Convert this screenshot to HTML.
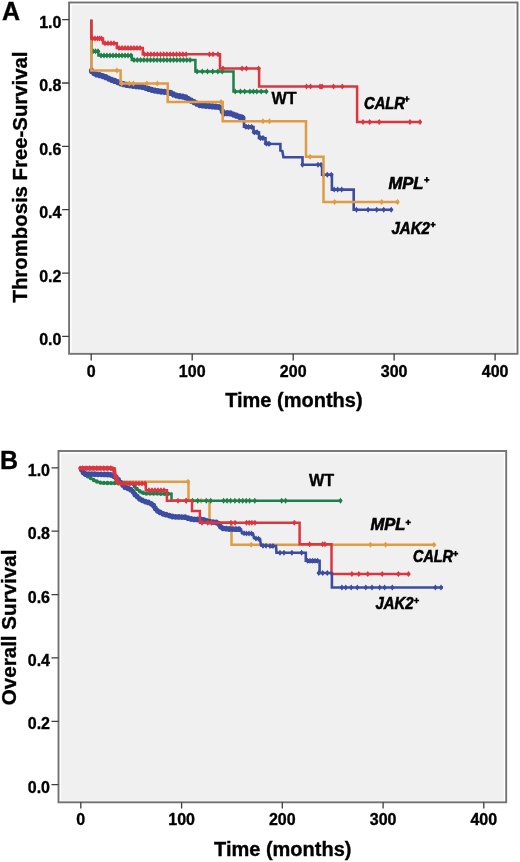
<!DOCTYPE html><html><head><meta charset="utf-8"><style>html,body{margin:0;padding:0;background:#fff;}svg{display:block;will-change:transform;filter:blur(0.4px);}text{font-family:"Liberation Sans",sans-serif;font-weight:bold;fill:#000;stroke:#000;stroke-width:0.35px;}.it{font-style:italic;stroke-width:0.6px;}</style></head><body>
<svg width="520" height="862" viewBox="0 0 520 862">
<rect width="520" height="862" fill="#fff"/>
<rect x="71.7" y="4.9" width="443.4" height="347.3" fill="#f0f0f0"/>
<rect x="69.1" y="2.5" width="448.4" height="351.3" fill="none" stroke="#727272" stroke-width="1.9"/>
<path d="M62.1 336.4H69.1M62.1 273.1H69.1M62.1 209.7H69.1M62.1 146.4H69.1M62.1 83.0H69.1M62.1 19.7H69.1M91.2 353.8V360.5M192.2 353.8V360.5M293.2 353.8V360.5M394.1 353.8V360.5M495.1 353.8V360.5" stroke="#3c3c3c" stroke-width="1.3" fill="none"/>
<text x="61.4" y="344.8" font-size="16" text-anchor="end">0.0</text>
<text x="61.4" y="281.5" font-size="16" text-anchor="end">0.2</text>
<text x="61.4" y="218.1" font-size="16" text-anchor="end">0.4</text>
<text x="61.4" y="154.8" font-size="16" text-anchor="end">0.6</text>
<text x="61.4" y="91.4" font-size="16" text-anchor="end">0.8</text>
<text x="61.4" y="28.1" font-size="16" text-anchor="end">1.0</text>
<text x="91.2" y="377.0" font-size="16" text-anchor="middle">0</text>
<text x="192.2" y="377.0" font-size="16" text-anchor="middle">100</text>
<text x="293.2" y="377.0" font-size="16" text-anchor="middle">200</text>
<text x="394.1" y="377.0" font-size="16" text-anchor="middle">300</text>
<text x="495.1" y="377.0" font-size="16" text-anchor="middle">400</text>
<path d="M91.3 19.7V71" stroke="#3c4ca0" stroke-width="2.2"/>
<path d="M91.5 70.9 L95.0 74.2 L100.0 75.3 L105.0 76.8 L110.0 79.3 L115.0 81.0 L120.0 83.2 L125.0 84.6 L135.0 86.1 L140.0 86.4 L145.0 87.6 L150.0 89.4 L155.0 90.6 L160.0 91.5 L165.0 91.9 L170.0 92.6 L175.0 95.2 L180.0 96.3 L185.0 96.9 L190.0 100.0 L195.0 102.8 L200.0 105.2 L215.0 106.6 L221.0 107.3 L223.0 113.3 L230.0 113.2 L235.0 115.2 L240.0 117.0 L243.5 118.3" fill="none" stroke="#3c4ca0" stroke-width="3.8" stroke-linejoin="round" stroke-linecap="round"/>
<path d="M88.9 70.9a2.63 3.10 0 1 0 5.27 0a2.63 3.10 0 1 0 -5.27 0zM91.2 73.1a2.63 3.10 0 1 0 5.27 0a2.63 3.10 0 1 0 -5.27 0zM93.9 74.5a2.63 3.10 0 1 0 5.27 0a2.63 3.10 0 1 0 -5.27 0zM97.0 75.2a2.63 3.10 0 1 0 5.27 0a2.63 3.10 0 1 0 -5.27 0zM100.1 76.1a2.63 3.10 0 1 0 5.27 0a2.63 3.10 0 1 0 -5.27 0zM103.1 77.2a2.63 3.10 0 1 0 5.27 0a2.63 3.10 0 1 0 -5.27 0zM106.0 78.6a2.63 3.10 0 1 0 5.27 0a2.63 3.10 0 1 0 -5.27 0zM108.9 79.8a2.63 3.10 0 1 0 5.27 0a2.63 3.10 0 1 0 -5.27 0zM112.0 80.9a2.63 3.10 0 1 0 5.27 0a2.63 3.10 0 1 0 -5.27 0zM114.9 82.1a2.63 3.10 0 1 0 5.27 0a2.63 3.10 0 1 0 -5.27 0zM117.9 83.3a2.63 3.10 0 1 0 5.27 0a2.63 3.10 0 1 0 -5.27 0zM120.9 84.2a2.63 3.10 0 1 0 5.27 0a2.63 3.10 0 1 0 -5.27 0zM124.1 84.9a2.63 3.10 0 1 0 5.27 0a2.63 3.10 0 1 0 -5.27 0zM127.2 85.3a2.63 3.10 0 1 0 5.27 0a2.63 3.10 0 1 0 -5.27 0zM130.4 85.8a2.63 3.10 0 1 0 5.27 0a2.63 3.10 0 1 0 -5.27 0zM133.6 86.2a2.63 3.10 0 1 0 5.27 0a2.63 3.10 0 1 0 -5.27 0zM136.8 86.4a2.63 3.10 0 1 0 5.27 0a2.63 3.10 0 1 0 -5.27 0zM139.9 87.0a2.63 3.10 0 1 0 5.27 0a2.63 3.10 0 1 0 -5.27 0zM143.0 87.8a2.63 3.10 0 1 0 5.27 0a2.63 3.10 0 1 0 -5.27 0zM146.0 88.9a2.63 3.10 0 1 0 5.27 0a2.63 3.10 0 1 0 -5.27 0zM149.1 89.8a2.63 3.10 0 1 0 5.27 0a2.63 3.10 0 1 0 -5.27 0zM152.2 90.6a2.63 3.10 0 1 0 5.27 0a2.63 3.10 0 1 0 -5.27 0zM155.3 91.1a2.63 3.10 0 1 0 5.27 0a2.63 3.10 0 1 0 -5.27 0zM158.5 91.6a2.63 3.10 0 1 0 5.27 0a2.63 3.10 0 1 0 -5.27 0zM161.7 91.8a2.63 3.10 0 1 0 5.27 0a2.63 3.10 0 1 0 -5.27 0zM164.8 92.2a2.63 3.10 0 1 0 5.27 0a2.63 3.10 0 1 0 -5.27 0zM168.0 92.9a2.63 3.10 0 1 0 5.27 0a2.63 3.10 0 1 0 -5.27 0zM170.8 94.4a2.63 3.10 0 1 0 5.27 0a2.63 3.10 0 1 0 -5.27 0zM173.8 95.5a2.63 3.10 0 1 0 5.27 0a2.63 3.10 0 1 0 -5.27 0zM176.9 96.2a2.63 3.10 0 1 0 5.27 0a2.63 3.10 0 1 0 -5.27 0zM180.1 96.6a2.63 3.10 0 1 0 5.27 0a2.63 3.10 0 1 0 -5.27 0zM183.1 97.4a2.63 3.10 0 1 0 5.27 0a2.63 3.10 0 1 0 -5.27 0zM185.8 99.0a2.63 3.10 0 1 0 5.27 0a2.63 3.10 0 1 0 -5.27 0zM188.6 100.7a2.63 3.10 0 1 0 5.27 0a2.63 3.10 0 1 0 -5.27 0zM191.4 102.2a2.63 3.10 0 1 0 5.27 0a2.63 3.10 0 1 0 -5.27 0zM194.2 103.7a2.63 3.10 0 1 0 5.27 0a2.63 3.10 0 1 0 -5.27 0zM197.1 105.1a2.63 3.10 0 1 0 5.27 0a2.63 3.10 0 1 0 -5.27 0zM200.3 105.5a2.63 3.10 0 1 0 5.27 0a2.63 3.10 0 1 0 -5.27 0zM203.4 105.8a2.63 3.10 0 1 0 5.27 0a2.63 3.10 0 1 0 -5.27 0zM206.6 106.1a2.63 3.10 0 1 0 5.27 0a2.63 3.10 0 1 0 -5.27 0zM209.8 106.4a2.63 3.10 0 1 0 5.27 0a2.63 3.10 0 1 0 -5.27 0zM213.0 106.7a2.63 3.10 0 1 0 5.27 0a2.63 3.10 0 1 0 -5.27 0zM216.2 107.0a2.63 3.10 0 1 0 5.27 0a2.63 3.10 0 1 0 -5.27 0zM218.7 108.3a2.63 3.10 0 1 0 5.27 0a2.63 3.10 0 1 0 -5.27 0zM219.7 111.3a2.63 3.10 0 1 0 5.27 0a2.63 3.10 0 1 0 -5.27 0zM221.4 113.3a2.63 3.10 0 1 0 5.27 0a2.63 3.10 0 1 0 -5.27 0zM224.6 113.2a2.63 3.10 0 1 0 5.27 0a2.63 3.10 0 1 0 -5.27 0zM227.8 113.4a2.63 3.10 0 1 0 5.27 0a2.63 3.10 0 1 0 -5.27 0zM230.8 114.6a2.63 3.10 0 1 0 5.27 0a2.63 3.10 0 1 0 -5.27 0zM233.8 115.7a2.63 3.10 0 1 0 5.27 0a2.63 3.10 0 1 0 -5.27 0zM236.8 116.8a2.63 3.10 0 1 0 5.27 0a2.63 3.10 0 1 0 -5.27 0zM239.8 117.9a2.63 3.10 0 1 0 5.27 0a2.63 3.10 0 1 0 -5.27 0z" fill="#3c4ca0"/>
<path d="M241.0 116.5 L244.0 117.5 L244.0 126.8 L253.5 127.0 L253.5 132.3 L259.0 132.5 L259.0 138.0 L265.5 138.3 L265.5 143.8 L280.4 144.0 L280.4 150.5 L282.3 151.0 L283.5 157.3 L302.5 157.3 L302.5 164.8 L322.1 164.8 L322.1 174.8 L331.9 174.8 L331.9 189.6 L353.7 189.6 L353.7 209.8 L392.3 209.8" fill="none" stroke="#3c4ca0" stroke-width="2.6"/>
<path d="M242.0 114.0l3.0 3.0l-3.0 3.0l-3.0 -3.0zM246.0 123.8l3.0 3.0l-3.0 3.0l-3.0 -3.0zM248.5 124.0l3.0 3.0l-3.0 3.0l-3.0 -3.0zM251.5 124.0l3.0 3.0l-3.0 3.0l-3.0 -3.0zM254.5 129.3l3.0 3.0l-3.0 3.0l-3.0 -3.0zM257.0 129.3l3.0 3.0l-3.0 3.0l-3.0 -3.0zM260.5 135.0l3.0 3.0l-3.0 3.0l-3.0 -3.0zM263.0 135.0l3.0 3.0l-3.0 3.0l-3.0 -3.0zM266.5 140.6l3.0 3.0l-3.0 3.0l-3.0 -3.0zM269.0 140.8l3.0 3.0l-3.0 3.0l-3.0 -3.0z" fill="#3c4ca0"/>
<path d="M302.5 161.8l2.3 3.0l-2.3 3.0l-2.3 -3.0zM318.0 161.8l2.3 3.0l-2.3 3.0l-2.3 -3.0zM321.0 161.8l2.3 3.0l-2.3 3.0l-2.3 -3.0zM323.3 171.8l2.3 3.0l-2.3 3.0l-2.3 -3.0zM327.3 171.8l2.3 3.0l-2.3 3.0l-2.3 -3.0zM331.3 171.8l2.3 3.0l-2.3 3.0l-2.3 -3.0zM334.2 186.6l2.3 3.0l-2.3 3.0l-2.3 -3.0zM337.7 186.6l2.3 3.0l-2.3 3.0l-2.3 -3.0zM341.7 186.6l2.3 3.0l-2.3 3.0l-2.3 -3.0zM356.5 206.8l2.3 3.0l-2.3 3.0l-2.3 -3.0zM368.1 206.8l2.3 3.0l-2.3 3.0l-2.3 -3.0zM376.7 206.8l2.3 3.0l-2.3 3.0l-2.3 -3.0zM383.7 206.8l2.3 3.0l-2.3 3.0l-2.3 -3.0zM391.2 206.8l2.3 3.0l-2.3 3.0l-2.3 -3.0z" fill="#3c4ca0"/>
<path d="M91.3 19.7 H91.3 V51.3 H98.4 V55.4 H131.8 V60.0 H195.4 V71.5 H233.5 V91.5 H267.5 V91.5" fill="none" stroke="#1d8048" stroke-width="2.5" stroke-linejoin="miter" />
<path d="M93.0 48.3l2.3 3.0l-2.3 3.0l-2.3 -3.0zM95.5 48.3l2.3 3.0l-2.3 3.0l-2.3 -3.0zM98.0 48.3l2.3 3.0l-2.3 3.0l-2.3 -3.0zM101.0 52.4l2.3 3.0l-2.3 3.0l-2.3 -3.0zM104.0 52.4l2.3 3.0l-2.3 3.0l-2.3 -3.0zM107.0 52.4l2.3 3.0l-2.3 3.0l-2.3 -3.0zM110.0 52.4l2.3 3.0l-2.3 3.0l-2.3 -3.0zM113.0 52.4l2.3 3.0l-2.3 3.0l-2.3 -3.0zM116.0 52.4l2.3 3.0l-2.3 3.0l-2.3 -3.0zM119.0 52.4l2.3 3.0l-2.3 3.0l-2.3 -3.0zM122.0 52.4l2.3 3.0l-2.3 3.0l-2.3 -3.0zM125.0 52.4l2.3 3.0l-2.3 3.0l-2.3 -3.0zM128.0 52.4l2.3 3.0l-2.3 3.0l-2.3 -3.0zM131.0 52.4l2.3 3.0l-2.3 3.0l-2.3 -3.0zM134.0 57.0l2.3 3.0l-2.3 3.0l-2.3 -3.0zM137.3 57.0l2.3 3.0l-2.3 3.0l-2.3 -3.0zM140.6 57.0l2.3 3.0l-2.3 3.0l-2.3 -3.0zM143.9 57.0l2.3 3.0l-2.3 3.0l-2.3 -3.0zM147.2 57.0l2.3 3.0l-2.3 3.0l-2.3 -3.0zM150.5 57.0l2.3 3.0l-2.3 3.0l-2.3 -3.0zM153.8 57.0l2.3 3.0l-2.3 3.0l-2.3 -3.0zM157.1 57.0l2.3 3.0l-2.3 3.0l-2.3 -3.0zM160.4 57.0l2.3 3.0l-2.3 3.0l-2.3 -3.0zM163.7 57.0l2.3 3.0l-2.3 3.0l-2.3 -3.0zM167.0 57.0l2.3 3.0l-2.3 3.0l-2.3 -3.0zM170.3 57.0l2.3 3.0l-2.3 3.0l-2.3 -3.0zM173.6 57.0l2.3 3.0l-2.3 3.0l-2.3 -3.0zM176.9 57.0l2.3 3.0l-2.3 3.0l-2.3 -3.0zM180.2 57.0l2.3 3.0l-2.3 3.0l-2.3 -3.0zM183.5 57.0l2.3 3.0l-2.3 3.0l-2.3 -3.0zM186.8 57.0l2.3 3.0l-2.3 3.0l-2.3 -3.0zM190.1 57.0l2.3 3.0l-2.3 3.0l-2.3 -3.0zM197.1 68.5l2.3 3.0l-2.3 3.0l-2.3 -3.0zM202.3 68.5l2.3 3.0l-2.3 3.0l-2.3 -3.0zM207.5 68.5l2.3 3.0l-2.3 3.0l-2.3 -3.0zM212.7 68.5l2.3 3.0l-2.3 3.0l-2.3 -3.0zM217.9 68.5l2.3 3.0l-2.3 3.0l-2.3 -3.0zM222.2 68.5l2.3 3.0l-2.3 3.0l-2.3 -3.0zM235.2 88.5l2.3 3.0l-2.3 3.0l-2.3 -3.0zM240.4 88.5l2.3 3.0l-2.3 3.0l-2.3 -3.0zM244.7 88.5l2.3 3.0l-2.3 3.0l-2.3 -3.0zM249.9 88.5l2.3 3.0l-2.3 3.0l-2.3 -3.0zM253.4 88.5l2.3 3.0l-2.3 3.0l-2.3 -3.0zM256.8 88.5l2.3 3.0l-2.3 3.0l-2.3 -3.0zM261.2 88.5l2.3 3.0l-2.3 3.0l-2.3 -3.0zM266.3 88.5l2.3 3.0l-2.3 3.0l-2.3 -3.0z" fill="#1d8048"/>
<path d="M91.3 19.7 H91.3 V70.4 H120.6 V83.6 H167.7 V101.9 H222.7 V121.2 H306.0 V156.8 H323.5 V201.9 H398.7 V201.9" fill="none" stroke="#e09c42" stroke-width="2.5" stroke-linejoin="miter" />
<path d="M116.9 67.4l2.3 3.0l-2.3 3.0l-2.3 -3.0zM121.8 80.6l2.3 3.0l-2.3 3.0l-2.3 -3.0zM129.3 80.6l2.3 3.0l-2.3 3.0l-2.3 -3.0zM133.3 80.6l2.3 3.0l-2.3 3.0l-2.3 -3.0zM146.9 80.6l2.3 3.0l-2.3 3.0l-2.3 -3.0zM157.3 80.6l2.3 3.0l-2.3 3.0l-2.3 -3.0zM221.0 98.9l2.3 3.0l-2.3 3.0l-2.3 -3.0zM263.0 118.2l2.3 3.0l-2.3 3.0l-2.3 -3.0zM269.4 118.2l2.3 3.0l-2.3 3.0l-2.3 -3.0zM310.0 153.8l2.3 3.0l-2.3 3.0l-2.3 -3.0zM334.6 198.9l2.3 3.0l-2.3 3.0l-2.3 -3.0zM381.7 198.9l2.3 3.0l-2.3 3.0l-2.3 -3.0zM397.5 198.9l2.3 3.0l-2.3 3.0l-2.3 -3.0z" fill="#e09c42"/>
<path d="M91.3 19.7 H91.3 V38.6 H103.0 V43.3 H116.8 V48.1 H142.8 V54.3 H220.0 V68.6 H259.1 V86.5 H357.1 V122.0 H420.8 V122.0" fill="none" stroke="#dc3540" stroke-width="2.5" stroke-linejoin="miter" />
<path d="M92.6 35.6l2.3 3.0l-2.3 3.0l-2.3 -3.0zM95.0 35.6l2.3 3.0l-2.3 3.0l-2.3 -3.0zM97.5 35.6l2.3 3.0l-2.3 3.0l-2.3 -3.0zM99.5 35.6l2.3 3.0l-2.3 3.0l-2.3 -3.0zM101.5 35.6l2.3 3.0l-2.3 3.0l-2.3 -3.0zM105.0 40.3l2.3 3.0l-2.3 3.0l-2.3 -3.0zM108.0 40.3l2.3 3.0l-2.3 3.0l-2.3 -3.0zM111.0 40.3l2.3 3.0l-2.3 3.0l-2.3 -3.0zM114.0 40.3l2.3 3.0l-2.3 3.0l-2.3 -3.0zM119.0 45.1l2.3 3.0l-2.3 3.0l-2.3 -3.0zM122.0 45.1l2.3 3.0l-2.3 3.0l-2.3 -3.0zM125.0 45.1l2.3 3.0l-2.3 3.0l-2.3 -3.0zM128.0 45.1l2.3 3.0l-2.3 3.0l-2.3 -3.0zM131.0 45.1l2.3 3.0l-2.3 3.0l-2.3 -3.0zM134.0 45.1l2.3 3.0l-2.3 3.0l-2.3 -3.0zM137.0 45.1l2.3 3.0l-2.3 3.0l-2.3 -3.0zM140.0 45.1l2.3 3.0l-2.3 3.0l-2.3 -3.0zM144.5 51.3l2.3 3.0l-2.3 3.0l-2.3 -3.0zM147.7 51.3l2.3 3.0l-2.3 3.0l-2.3 -3.0zM150.9 51.3l2.3 3.0l-2.3 3.0l-2.3 -3.0zM154.1 51.3l2.3 3.0l-2.3 3.0l-2.3 -3.0zM157.3 51.3l2.3 3.0l-2.3 3.0l-2.3 -3.0zM160.5 51.3l2.3 3.0l-2.3 3.0l-2.3 -3.0zM163.7 51.3l2.3 3.0l-2.3 3.0l-2.3 -3.0zM166.9 51.3l2.3 3.0l-2.3 3.0l-2.3 -3.0zM170.1 51.3l2.3 3.0l-2.3 3.0l-2.3 -3.0zM173.3 51.3l2.3 3.0l-2.3 3.0l-2.3 -3.0zM176.5 51.3l2.3 3.0l-2.3 3.0l-2.3 -3.0zM179.7 51.3l2.3 3.0l-2.3 3.0l-2.3 -3.0zM182.9 51.3l2.3 3.0l-2.3 3.0l-2.3 -3.0zM186.1 51.3l2.3 3.0l-2.3 3.0l-2.3 -3.0zM209.4 51.3l2.3 3.0l-2.3 3.0l-2.3 -3.0zM213.0 51.3l2.3 3.0l-2.3 3.0l-2.3 -3.0zM218.0 51.3l2.3 3.0l-2.3 3.0l-2.3 -3.0zM223.0 65.6l2.3 3.0l-2.3 3.0l-2.3 -3.0zM242.1 65.6l2.3 3.0l-2.3 3.0l-2.3 -3.0zM246.4 65.6l2.3 3.0l-2.3 3.0l-2.3 -3.0zM258.6 65.6l2.3 3.0l-2.3 3.0l-2.3 -3.0zM306.5 83.5l2.3 3.0l-2.3 3.0l-2.3 -3.0zM310.5 83.5l2.3 3.0l-2.3 3.0l-2.3 -3.0zM320.0 83.5l2.3 3.0l-2.3 3.0l-2.3 -3.0zM322.0 83.5l2.3 3.0l-2.3 3.0l-2.3 -3.0zM333.5 83.5l2.3 3.0l-2.3 3.0l-2.3 -3.0zM342.3 83.5l2.3 3.0l-2.3 3.0l-2.3 -3.0zM363.0 119.0l2.3 3.0l-2.3 3.0l-2.3 -3.0zM369.7 119.0l2.3 3.0l-2.3 3.0l-2.3 -3.0zM379.2 119.0l2.3 3.0l-2.3 3.0l-2.3 -3.0zM410.0 119.0l2.3 3.0l-2.3 3.0l-2.3 -3.0zM420.0 119.0l2.3 3.0l-2.3 3.0l-2.3 -3.0z" fill="#dc3540"/>
<text x="2" y="20.2" font-size="25">A</text>
<text x="271.5" y="104.2" font-size="16.2">WT</text>
<text class="it" x="364" y="108.9" font-size="17" textLength="41" lengthAdjust="spacingAndGlyphs">CALR</text>
<path d="M404.3 99.0h5.2M406.9 96.3v5.4" stroke="#000" stroke-width="1.7"/>
<text class="it" x="388.5" y="189.2" font-size="17" textLength="35" lengthAdjust="spacingAndGlyphs">MPL</text>
<path d="M424.2 179.8h5.2M426.8 177.1v5.4" stroke="#000" stroke-width="1.7"/>
<text class="it" x="391.5" y="233.6" font-size="17" textLength="38.5" lengthAdjust="spacingAndGlyphs">JAK2</text>
<path d="M430.4 224.6h5.2M433.0 221.9v5.4" stroke="#000" stroke-width="1.7"/>
<text x="293.85" y="407.3" font-size="20" text-anchor="middle">Time (months)</text>
<text transform="translate(26.6 177.0) rotate(-90)" font-size="20.35" text-anchor="middle">Thrombosis Free-Survival</text>
<rect x="61.1" y="453.4" width="442.7" height="347.3" fill="#f0f0f0"/>
<rect x="58.5" y="451.0" width="447.7" height="351.3" fill="none" stroke="#727272" stroke-width="1.9"/>
<path d="M51.5 784.6H58.5M51.5 721.3H58.5M51.5 657.9H58.5M51.5 594.6H58.5M51.5 531.2H58.5M51.5 467.9H58.5M80.8 802.3V808.5M181.6 802.3V808.5M282.3 802.3V808.5M383.1 802.3V808.5M483.8 802.3V808.5" stroke="#3c3c3c" stroke-width="1.3" fill="none"/>
<text x="50.0" y="792.6" font-size="16" text-anchor="end">0.0</text>
<text x="50.0" y="729.3" font-size="16" text-anchor="end">0.2</text>
<text x="50.0" y="665.9" font-size="16" text-anchor="end">0.4</text>
<text x="50.0" y="602.6" font-size="16" text-anchor="end">0.6</text>
<text x="50.0" y="539.2" font-size="16" text-anchor="end">0.8</text>
<text x="50.0" y="475.9" font-size="16" text-anchor="end">1.0</text>
<text x="80.8" y="825.2" font-size="16" text-anchor="middle">0</text>
<text x="181.6" y="825.2" font-size="16" text-anchor="middle">100</text>
<text x="282.3" y="825.2" font-size="16" text-anchor="middle">200</text>
<text x="383.1" y="825.2" font-size="16" text-anchor="middle">300</text>
<text x="483.8" y="825.2" font-size="16" text-anchor="middle">400</text>
<path d="M80.5 468.2 H115.0 V481.7 H188.5 V500.8 H209.5 V522.3 H231.5 V544.8 H435.3 V544.8" fill="none" stroke="#e09c42" stroke-width="2.5" stroke-linejoin="miter" />
<path d="M188.0 478.7l2.3 3.0l-2.3 3.0l-2.3 -3.0zM201.2 497.8l2.3 3.0l-2.3 3.0l-2.3 -3.0zM251.2 541.8l2.3 3.0l-2.3 3.0l-2.3 -3.0zM370.4 541.8l2.3 3.0l-2.3 3.0l-2.3 -3.0zM385.6 541.8l2.3 3.0l-2.3 3.0l-2.3 -3.0zM434.0 541.8l2.3 3.0l-2.3 3.0l-2.3 -3.0z" fill="#e09c42"/>
<path d="M80.5 468.2 L83.0 471.5 L85.0 474.5 L90.7 478.2 L95.3 481.0 L101.0 482.8 L117.0 483.2 L133.0 483.5 L135.4 487.7 L140.0 491.5 L144.6 493.5 L171.0 493.8" fill="none" stroke="#1d8048" stroke-width="2.7" stroke-linejoin="round" stroke-linecap="round"/>
<path d="M78.6 468.2a1.87 2.20 0 1 0 3.74 0a1.87 2.20 0 1 0 -3.74 0zM80.8 471.1a1.87 2.20 0 1 0 3.74 0a1.87 2.20 0 1 0 -3.74 0zM82.8 474.0a1.87 2.20 0 1 0 3.74 0a1.87 2.20 0 1 0 -3.74 0zM85.7 476.2a1.87 2.20 0 1 0 3.74 0a1.87 2.20 0 1 0 -3.74 0zM88.7 478.1a1.87 2.20 0 1 0 3.74 0a1.87 2.20 0 1 0 -3.74 0zM91.8 480.0a1.87 2.20 0 1 0 3.74 0a1.87 2.20 0 1 0 -3.74 0zM95.0 481.5a1.87 2.20 0 1 0 3.74 0a1.87 2.20 0 1 0 -3.74 0zM98.5 482.6a1.87 2.20 0 1 0 3.74 0a1.87 2.20 0 1 0 -3.74 0zM102.0 482.9a1.87 2.20 0 1 0 3.74 0a1.87 2.20 0 1 0 -3.74 0zM105.6 483.0a1.87 2.20 0 1 0 3.74 0a1.87 2.20 0 1 0 -3.74 0zM109.2 483.1a1.87 2.20 0 1 0 3.74 0a1.87 2.20 0 1 0 -3.74 0zM112.8 483.1a1.87 2.20 0 1 0 3.74 0a1.87 2.20 0 1 0 -3.74 0zM116.4 483.2a1.87 2.20 0 1 0 3.74 0a1.87 2.20 0 1 0 -3.74 0zM120.0 483.3a1.87 2.20 0 1 0 3.74 0a1.87 2.20 0 1 0 -3.74 0zM123.6 483.4a1.87 2.20 0 1 0 3.74 0a1.87 2.20 0 1 0 -3.74 0zM127.2 483.4a1.87 2.20 0 1 0 3.74 0a1.87 2.20 0 1 0 -3.74 0zM130.8 483.5a1.87 2.20 0 1 0 3.74 0a1.87 2.20 0 1 0 -3.74 0zM132.8 486.4a1.87 2.20 0 1 0 3.74 0a1.87 2.20 0 1 0 -3.74 0zM135.1 489.0a1.87 2.20 0 1 0 3.74 0a1.87 2.20 0 1 0 -3.74 0zM137.9 491.3a1.87 2.20 0 1 0 3.74 0a1.87 2.20 0 1 0 -3.74 0zM141.1 492.8a1.87 2.20 0 1 0 3.74 0a1.87 2.20 0 1 0 -3.74 0zM144.6 493.5a1.87 2.20 0 1 0 3.74 0a1.87 2.20 0 1 0 -3.74 0zM148.2 493.6a1.87 2.20 0 1 0 3.74 0a1.87 2.20 0 1 0 -3.74 0zM151.8 493.6a1.87 2.20 0 1 0 3.74 0a1.87 2.20 0 1 0 -3.74 0zM155.4 493.6a1.87 2.20 0 1 0 3.74 0a1.87 2.20 0 1 0 -3.74 0zM159.0 493.7a1.87 2.20 0 1 0 3.74 0a1.87 2.20 0 1 0 -3.74 0zM162.6 493.7a1.87 2.20 0 1 0 3.74 0a1.87 2.20 0 1 0 -3.74 0zM166.2 493.8a1.87 2.20 0 1 0 3.74 0a1.87 2.20 0 1 0 -3.74 0z" fill="#1d8048"/>
<path d="M171.0 493.8 H171.5 V500.7 H340.5 V500.8" fill="none" stroke="#1d8048" stroke-width="2.5" stroke-linejoin="miter" />
<path d="M186.4 497.7l2.3 3.0l-2.3 3.0l-2.3 -3.0zM192.5 497.7l2.3 3.0l-2.3 3.0l-2.3 -3.0zM197.7 497.7l2.3 3.0l-2.3 3.0l-2.3 -3.0zM206.3 497.7l2.3 3.0l-2.3 3.0l-2.3 -3.0zM210.7 497.7l2.3 3.0l-2.3 3.0l-2.3 -3.0zM223.6 497.7l2.3 3.0l-2.3 3.0l-2.3 -3.0zM227.1 497.7l2.3 3.0l-2.3 3.0l-2.3 -3.0zM230.6 497.7l2.3 3.0l-2.3 3.0l-2.3 -3.0zM234.9 497.7l2.3 3.0l-2.3 3.0l-2.3 -3.0zM239.2 497.7l2.3 3.0l-2.3 3.0l-2.3 -3.0zM242.7 497.7l2.3 3.0l-2.3 3.0l-2.3 -3.0zM246.2 497.7l2.3 3.0l-2.3 3.0l-2.3 -3.0zM249.6 497.7l2.3 3.0l-2.3 3.0l-2.3 -3.0zM254.8 497.7l2.3 3.0l-2.3 3.0l-2.3 -3.0zM281.7 497.7l2.3 3.0l-2.3 3.0l-2.3 -3.0zM285.6 497.7l2.3 3.0l-2.3 3.0l-2.3 -3.0zM340.4 497.7l2.3 3.0l-2.3 3.0l-2.3 -3.0z" fill="#1d8048"/>
<path d="M81.5 469.5 L84.0 474.0 L110.0 474.5 L115.0 476.5 L118.0 479.2 L120.0 482.0 L125.0 487.3 L130.0 489.0 L133.0 491.5 L135.0 494.6 L140.0 499.2 L145.0 501.5 L148.0 502.2 L153.0 504.6 L155.0 508.0 L158.0 511.4 L163.0 513.8 L168.0 515.2 L173.0 516.7 L185.0 517.2 L190.0 518.8 L195.0 519.5 L203.0 519.5 L208.0 521.5 L218.0 522.6 L220.0 526.0 L222.0 528.2 L230.0 529.1 L239.0 529.2" fill="none" stroke="#3c4ca0" stroke-width="3.6" stroke-linejoin="round" stroke-linecap="round"/>
<path d="M79.0 469.5a2.46 2.90 0 1 0 4.93 0a2.46 2.90 0 1 0 -4.93 0zM80.6 472.3a2.46 2.90 0 1 0 4.93 0a2.46 2.90 0 1 0 -4.93 0zM82.8 474.0a2.46 2.90 0 1 0 4.93 0a2.46 2.90 0 1 0 -4.93 0zM86.0 474.1a2.46 2.90 0 1 0 4.93 0a2.46 2.90 0 1 0 -4.93 0zM89.2 474.1a2.46 2.90 0 1 0 4.93 0a2.46 2.90 0 1 0 -4.93 0zM92.4 474.2a2.46 2.90 0 1 0 4.93 0a2.46 2.90 0 1 0 -4.93 0zM95.6 474.3a2.46 2.90 0 1 0 4.93 0a2.46 2.90 0 1 0 -4.93 0zM98.8 474.3a2.46 2.90 0 1 0 4.93 0a2.46 2.90 0 1 0 -4.93 0zM102.0 474.4a2.46 2.90 0 1 0 4.93 0a2.46 2.90 0 1 0 -4.93 0zM105.2 474.5a2.46 2.90 0 1 0 4.93 0a2.46 2.90 0 1 0 -4.93 0zM108.3 474.8a2.46 2.90 0 1 0 4.93 0a2.46 2.90 0 1 0 -4.93 0zM111.3 476.0a2.46 2.90 0 1 0 4.93 0a2.46 2.90 0 1 0 -4.93 0zM113.9 477.7a2.46 2.90 0 1 0 4.93 0a2.46 2.90 0 1 0 -4.93 0zM116.1 480.0a2.46 2.90 0 1 0 4.93 0a2.46 2.90 0 1 0 -4.93 0zM118.1 482.6a2.46 2.90 0 1 0 4.93 0a2.46 2.90 0 1 0 -4.93 0zM120.3 484.9a2.46 2.90 0 1 0 4.93 0a2.46 2.90 0 1 0 -4.93 0zM122.5 487.2a2.46 2.90 0 1 0 4.93 0a2.46 2.90 0 1 0 -4.93 0zM125.5 488.3a2.46 2.90 0 1 0 4.93 0a2.46 2.90 0 1 0 -4.93 0zM128.3 489.7a2.46 2.90 0 1 0 4.93 0a2.46 2.90 0 1 0 -4.93 0zM130.7 491.8a2.46 2.90 0 1 0 4.93 0a2.46 2.90 0 1 0 -4.93 0zM132.4 494.5a2.46 2.90 0 1 0 4.93 0a2.46 2.90 0 1 0 -4.93 0zM134.8 496.6a2.46 2.90 0 1 0 4.93 0a2.46 2.90 0 1 0 -4.93 0zM137.1 498.8a2.46 2.90 0 1 0 4.93 0a2.46 2.90 0 1 0 -4.93 0zM139.9 500.3a2.46 2.90 0 1 0 4.93 0a2.46 2.90 0 1 0 -4.93 0zM142.9 501.6a2.46 2.90 0 1 0 4.93 0a2.46 2.90 0 1 0 -4.93 0zM145.9 502.4a2.46 2.90 0 1 0 4.93 0a2.46 2.90 0 1 0 -4.93 0zM148.8 503.8a2.46 2.90 0 1 0 4.93 0a2.46 2.90 0 1 0 -4.93 0zM151.2 505.7a2.46 2.90 0 1 0 4.93 0a2.46 2.90 0 1 0 -4.93 0zM152.9 508.4a2.46 2.90 0 1 0 4.93 0a2.46 2.90 0 1 0 -4.93 0zM155.0 510.8a2.46 2.90 0 1 0 4.93 0a2.46 2.90 0 1 0 -4.93 0zM157.7 512.4a2.46 2.90 0 1 0 4.93 0a2.46 2.90 0 1 0 -4.93 0zM160.6 513.8a2.46 2.90 0 1 0 4.93 0a2.46 2.90 0 1 0 -4.93 0zM163.7 514.7a2.46 2.90 0 1 0 4.93 0a2.46 2.90 0 1 0 -4.93 0zM166.8 515.6a2.46 2.90 0 1 0 4.93 0a2.46 2.90 0 1 0 -4.93 0zM169.8 516.5a2.46 2.90 0 1 0 4.93 0a2.46 2.90 0 1 0 -4.93 0zM173.0 516.8a2.46 2.90 0 1 0 4.93 0a2.46 2.90 0 1 0 -4.93 0zM176.2 516.9a2.46 2.90 0 1 0 4.93 0a2.46 2.90 0 1 0 -4.93 0zM179.4 517.1a2.46 2.90 0 1 0 4.93 0a2.46 2.90 0 1 0 -4.93 0zM182.6 517.2a2.46 2.90 0 1 0 4.93 0a2.46 2.90 0 1 0 -4.93 0zM185.6 518.2a2.46 2.90 0 1 0 4.93 0a2.46 2.90 0 1 0 -4.93 0zM188.7 519.0a2.46 2.90 0 1 0 4.93 0a2.46 2.90 0 1 0 -4.93 0zM191.9 519.4a2.46 2.90 0 1 0 4.93 0a2.46 2.90 0 1 0 -4.93 0zM195.1 519.5a2.46 2.90 0 1 0 4.93 0a2.46 2.90 0 1 0 -4.93 0zM198.3 519.5a2.46 2.90 0 1 0 4.93 0a2.46 2.90 0 1 0 -4.93 0zM201.4 519.9a2.46 2.90 0 1 0 4.93 0a2.46 2.90 0 1 0 -4.93 0zM204.4 521.0a2.46 2.90 0 1 0 4.93 0a2.46 2.90 0 1 0 -4.93 0zM207.5 521.7a2.46 2.90 0 1 0 4.93 0a2.46 2.90 0 1 0 -4.93 0zM210.7 522.1a2.46 2.90 0 1 0 4.93 0a2.46 2.90 0 1 0 -4.93 0zM213.9 522.4a2.46 2.90 0 1 0 4.93 0a2.46 2.90 0 1 0 -4.93 0zM216.3 523.9a2.46 2.90 0 1 0 4.93 0a2.46 2.90 0 1 0 -4.93 0zM218.0 526.6a2.46 2.90 0 1 0 4.93 0a2.46 2.90 0 1 0 -4.93 0zM220.5 528.3a2.46 2.90 0 1 0 4.93 0a2.46 2.90 0 1 0 -4.93 0zM223.7 528.7a2.46 2.90 0 1 0 4.93 0a2.46 2.90 0 1 0 -4.93 0zM226.9 529.0a2.46 2.90 0 1 0 4.93 0a2.46 2.90 0 1 0 -4.93 0zM230.1 529.1a2.46 2.90 0 1 0 4.93 0a2.46 2.90 0 1 0 -4.93 0zM233.3 529.2a2.46 2.90 0 1 0 4.93 0a2.46 2.90 0 1 0 -4.93 0zM236.5 529.2a2.46 2.90 0 1 0 4.93 0a2.46 2.90 0 1 0 -4.93 0z" fill="#3c4ca0"/>
<path d="M118.5 483.6 H145.8 V490.2 H166.9 V500.7 H192.0 V511.0 H199.9 V522.8 H299.6 V544.2 H331.5 V573.9 H409.3 V573.9" fill="none" stroke="#dc3540" stroke-width="2.5" stroke-linejoin="miter" />
<path d="M121.0 480.6l2.3 3.0l-2.3 3.0l-2.3 -3.0zM124.0 480.6l2.3 3.0l-2.3 3.0l-2.3 -3.0zM127.0 480.6l2.3 3.0l-2.3 3.0l-2.3 -3.0zM130.0 480.6l2.3 3.0l-2.3 3.0l-2.3 -3.0zM133.0 480.6l2.3 3.0l-2.3 3.0l-2.3 -3.0zM136.0 480.6l2.3 3.0l-2.3 3.0l-2.3 -3.0zM139.0 480.6l2.3 3.0l-2.3 3.0l-2.3 -3.0zM142.0 480.6l2.3 3.0l-2.3 3.0l-2.3 -3.0zM145.0 480.6l2.3 3.0l-2.3 3.0l-2.3 -3.0zM149.0 487.2l2.3 3.0l-2.3 3.0l-2.3 -3.0zM152.0 487.2l2.3 3.0l-2.3 3.0l-2.3 -3.0zM155.0 487.2l2.3 3.0l-2.3 3.0l-2.3 -3.0zM158.0 487.2l2.3 3.0l-2.3 3.0l-2.3 -3.0zM161.0 487.2l2.3 3.0l-2.3 3.0l-2.3 -3.0zM164.0 487.2l2.3 3.0l-2.3 3.0l-2.3 -3.0zM178.0 497.7l2.3 3.0l-2.3 3.0l-2.3 -3.0zM186.0 497.7l2.3 3.0l-2.3 3.0l-2.3 -3.0zM202.0 519.8l2.3 3.0l-2.3 3.0l-2.3 -3.0zM207.7 519.8l2.3 3.0l-2.3 3.0l-2.3 -3.0zM211.5 519.8l2.3 3.0l-2.3 3.0l-2.3 -3.0zM231.0 519.8l2.3 3.0l-2.3 3.0l-2.3 -3.0zM235.1 519.8l2.3 3.0l-2.3 3.0l-2.3 -3.0zM246.5 519.8l2.3 3.0l-2.3 3.0l-2.3 -3.0zM249.2 519.8l2.3 3.0l-2.3 3.0l-2.3 -3.0zM251.9 519.8l2.3 3.0l-2.3 3.0l-2.3 -3.0zM254.9 519.8l2.3 3.0l-2.3 3.0l-2.3 -3.0zM294.3 519.8l2.3 3.0l-2.3 3.0l-2.3 -3.0zM309.6 541.2l2.3 3.0l-2.3 3.0l-2.3 -3.0zM322.7 541.2l2.3 3.0l-2.3 3.0l-2.3 -3.0zM325.0 541.2l2.3 3.0l-2.3 3.0l-2.3 -3.0zM351.9 570.9l2.3 3.0l-2.3 3.0l-2.3 -3.0zM358.8 570.9l2.3 3.0l-2.3 3.0l-2.3 -3.0zM367.8 570.9l2.3 3.0l-2.3 3.0l-2.3 -3.0zM382.2 570.9l2.3 3.0l-2.3 3.0l-2.3 -3.0zM398.4 570.9l2.3 3.0l-2.3 3.0l-2.3 -3.0zM408.5 570.9l2.3 3.0l-2.3 3.0l-2.3 -3.0z" fill="#dc3540"/>
<path d="M80.5 468.2 L113.5 468.2 L114.5 473.0 L117.5 481.0 L118.5 483.6" fill="none" stroke="#dc3540" stroke-width="3.1" stroke-linejoin="round" stroke-linecap="round"/>
<path d="M78.4 468.2a2.12 2.50 0 1 0 4.25 0a2.12 2.50 0 1 0 -4.25 0zM81.8 468.2a2.12 2.50 0 1 0 4.25 0a2.12 2.50 0 1 0 -4.25 0zM85.2 468.2a2.12 2.50 0 1 0 4.25 0a2.12 2.50 0 1 0 -4.25 0zM88.6 468.2a2.12 2.50 0 1 0 4.25 0a2.12 2.50 0 1 0 -4.25 0zM92.0 468.2a2.12 2.50 0 1 0 4.25 0a2.12 2.50 0 1 0 -4.25 0zM95.4 468.2a2.12 2.50 0 1 0 4.25 0a2.12 2.50 0 1 0 -4.25 0zM98.8 468.2a2.12 2.50 0 1 0 4.25 0a2.12 2.50 0 1 0 -4.25 0zM102.2 468.2a2.12 2.50 0 1 0 4.25 0a2.12 2.50 0 1 0 -4.25 0zM105.6 468.2a2.12 2.50 0 1 0 4.25 0a2.12 2.50 0 1 0 -4.25 0zM109.0 468.2a2.12 2.50 0 1 0 4.25 0a2.12 2.50 0 1 0 -4.25 0zM111.6 469.2a2.12 2.50 0 1 0 4.25 0a2.12 2.50 0 1 0 -4.25 0zM112.3 472.5a2.12 2.50 0 1 0 4.25 0a2.12 2.50 0 1 0 -4.25 0zM113.4 475.7a2.12 2.50 0 1 0 4.25 0a2.12 2.50 0 1 0 -4.25 0zM114.6 478.9a2.12 2.50 0 1 0 4.25 0a2.12 2.50 0 1 0 -4.25 0zM115.8 482.1a2.12 2.50 0 1 0 4.25 0a2.12 2.50 0 1 0 -4.25 0z" fill="#dc3540"/>
<path d="M82.5 465.2l2.3 3.0l-2.3 3.0l-2.3 -3.0zM86.0 465.2l2.3 3.0l-2.3 3.0l-2.3 -3.0zM89.5 465.2l2.3 3.0l-2.3 3.0l-2.3 -3.0zM93.0 465.2l2.3 3.0l-2.3 3.0l-2.3 -3.0zM96.5 465.2l2.3 3.0l-2.3 3.0l-2.3 -3.0zM100.0 465.2l2.3 3.0l-2.3 3.0l-2.3 -3.0zM103.5 465.2l2.3 3.0l-2.3 3.0l-2.3 -3.0zM107.0 465.2l2.3 3.0l-2.3 3.0l-2.3 -3.0zM110.5 465.2l2.3 3.0l-2.3 3.0l-2.3 -3.0z" fill="#dc3540"/>
<path d="M239.0 529.2 L241.0 529.5 L242.0 533.2 L253.0 533.5 L254.0 538.0 L260.0 539.0 L261.0 545.5 L276.0 546.0 L276.5 552.7 L305.8 552.7 L305.8 560.7 L319.6 560.7 L319.6 573.0 L331.9 573.0 L331.9 587.5 L443.0 587.5" fill="none" stroke="#3c4ca0" stroke-width="2.6"/>
<path d="M244.0 530.2l2.3 3.0l-2.3 3.0l-2.3 -3.0zM246.5 530.5l2.3 3.0l-2.3 3.0l-2.3 -3.0zM249.0 530.5l2.3 3.0l-2.3 3.0l-2.3 -3.0zM251.5 530.5l2.3 3.0l-2.3 3.0l-2.3 -3.0zM256.0 535.5l2.3 3.0l-2.3 3.0l-2.3 -3.0zM258.5 535.8l2.3 3.0l-2.3 3.0l-2.3 -3.0zM263.0 542.7l2.3 3.0l-2.3 3.0l-2.3 -3.0zM266.0 542.7l2.3 3.0l-2.3 3.0l-2.3 -3.0zM270.0 543.0l2.3 3.0l-2.3 3.0l-2.3 -3.0zM273.0 543.0l2.3 3.0l-2.3 3.0l-2.3 -3.0zM280.0 549.7l2.3 3.0l-2.3 3.0l-2.3 -3.0zM284.0 549.7l2.3 3.0l-2.3 3.0l-2.3 -3.0zM291.9 549.7l2.3 3.0l-2.3 3.0l-2.3 -3.0zM301.6 549.7l2.3 3.0l-2.3 3.0l-2.3 -3.0zM307.5 557.7l2.3 3.0l-2.3 3.0l-2.3 -3.0zM310.0 557.7l2.3 3.0l-2.3 3.0l-2.3 -3.0zM312.5 557.7l2.3 3.0l-2.3 3.0l-2.3 -3.0zM315.0 557.7l2.3 3.0l-2.3 3.0l-2.3 -3.0zM317.5 557.7l2.3 3.0l-2.3 3.0l-2.3 -3.0zM318.8 570.0l2.3 3.0l-2.3 3.0l-2.3 -3.0zM322.7 570.0l2.3 3.0l-2.3 3.0l-2.3 -3.0zM327.3 570.0l2.3 3.0l-2.3 3.0l-2.3 -3.0zM341.9 584.5l2.3 3.0l-2.3 3.0l-2.3 -3.0zM345.8 584.5l2.3 3.0l-2.3 3.0l-2.3 -3.0zM351.2 584.5l2.3 3.0l-2.3 3.0l-2.3 -3.0zM357.3 584.5l2.3 3.0l-2.3 3.0l-2.3 -3.0zM365.8 584.5l2.3 3.0l-2.3 3.0l-2.3 -3.0zM372.0 584.5l2.3 3.0l-2.3 3.0l-2.3 -3.0zM379.7 584.5l2.3 3.0l-2.3 3.0l-2.3 -3.0zM384.6 584.5l2.3 3.0l-2.3 3.0l-2.3 -3.0zM392.3 584.5l2.3 3.0l-2.3 3.0l-2.3 -3.0zM435.4 584.5l2.3 3.0l-2.3 3.0l-2.3 -3.0zM441.0 584.5l2.3 3.0l-2.3 3.0l-2.3 -3.0z" fill="#3c4ca0"/>
<text x="0" y="468.9" font-size="25">B</text>
<text x="309" y="486.2" font-size="16.2">WT</text>
<text class="it" x="370.5" y="530.1" font-size="17" textLength="35" lengthAdjust="spacingAndGlyphs">MPL</text>
<path d="M405.6 522.4h5.2M408.2 519.7v5.4" stroke="#000" stroke-width="1.7"/>
<text class="it" x="413" y="562.3" font-size="17" textLength="40" lengthAdjust="spacingAndGlyphs">CALR</text>
<path d="M453.0 553.6h5.2M455.6 550.9v5.4" stroke="#000" stroke-width="1.7"/>
<text class="it" x="375.5" y="609.2" font-size="17" textLength="38" lengthAdjust="spacingAndGlyphs">JAK2</text>
<path d="M413.9 600.5h5.2M416.5 597.8v5.4" stroke="#000" stroke-width="1.7"/>
<text x="282.75" y="855.8" font-size="20" text-anchor="middle">Time (months)</text>
<text transform="translate(15.7 627.4) rotate(-90)" font-size="20.6" text-anchor="middle">Overall Survival</text>
</svg></body></html>
